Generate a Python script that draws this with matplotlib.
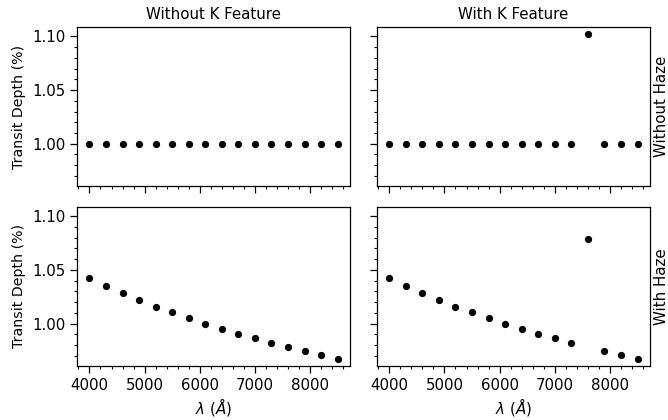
import matplotlib
matplotlib.use("Agg")
import matplotlib.pyplot as plt

# Wavelength grid (Angstrom)
wavelength = [4000, 4300, 4600, 4900, 5200, 5500, 5800, 6100,
              6400, 6700, 7000, 7300, 7600, 7900, 8200, 8500]

# Transit depth (%) for each scenario
flat_no_k = [1.000] * 16
flat_with_k = [1.000, 1.000, 1.000, 1.000, 1.000, 1.000, 1.000, 1.000,
               1.000, 1.000, 1.000, 1.000, 1.102, 1.000, 1.000, 1.000]
haze_no_k = [1.0422, 1.0350, 1.0281, 1.0219, 1.0156, 1.0103, 1.0050, 1.0000,
             0.9950, 0.9906, 0.9863, 0.9819, 0.9781, 0.9744, 0.9706, 0.9672]
haze_with_k = [1.0422, 1.0350, 1.0281, 1.0219, 1.0156, 1.0103, 1.0050, 1.0000,
               0.9950, 0.9906, 0.9863, 0.9819, 1.0790, 0.9744, 0.9706, 0.9672]

col_titles = ["Without K Feature", "With K Feature"]
row_labels = ["Without Haze", "With Haze"]

FS = 10.8

fig, axes = plt.subplots(2, 2, figsize=(6.68, 4.2), dpi=100,
                         sharex=True, sharey=True)
fig.subplots_adjust(left=0.1153, right=0.973, top=0.9357, bottom=0.1286,
                    wspace=0.098, hspace=0.13)

series = [[flat_no_k, flat_with_k], [haze_no_k, haze_with_k]]

for i in range(2):
    for j in range(2):
        ax = axes[i, j]
        ax.plot(wavelength, series[i][j], "o", color="black",
                markersize=4.2, linestyle="none")
        ax.minorticks_on()
        ax.tick_params(which="major", length=5, width=0.9, labelsize=FS)
        ax.tick_params(which="minor", length=2.5, width=0.8)
        for sp in ax.spines.values():
            sp.set_linewidth(0.9)
        if i == 0:
            ax.set_title(col_titles[j], fontsize=FS, pad=6)
        if i == 1:
            ax.set_xlabel(r"$\lambda$ ($\AA$)", fontsize=FS, labelpad=2)
        if j == 0:
            ax.set_ylabel("Transit Depth (%)", fontsize=10.2)
        if j == 1:
            ax.yaxis.set_label_position("right")
            ax.set_ylabel(row_labels[i], fontsize=FS, labelpad=3)

axes[0, 0].set_yticks([1.00, 1.05, 1.10])

fig.savefig("out.png", dpi=100, facecolor="white")
